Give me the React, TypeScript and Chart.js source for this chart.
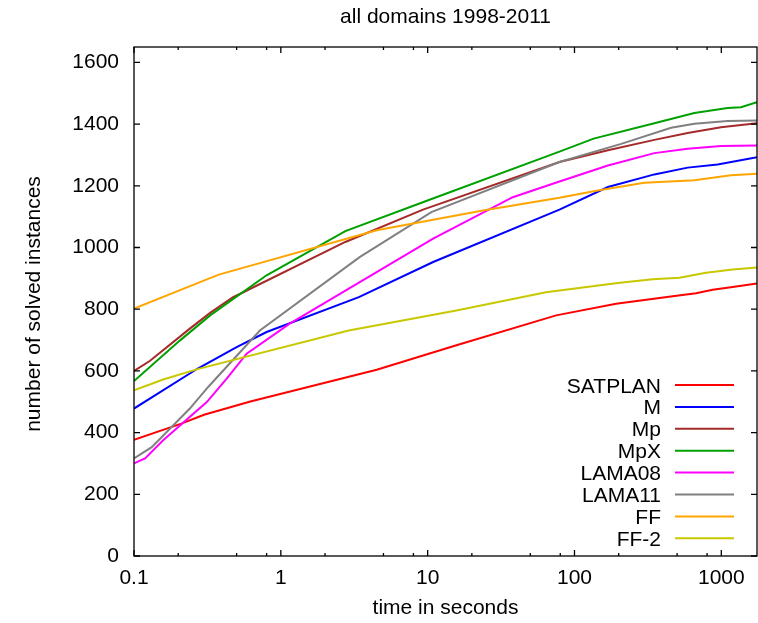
import { useEffect, useRef } from "react";
import { Chart, registerables } from "chart.js";

Chart.register(...registerables);

const FONT = '"Liberation Sans", Arial, Helvetica, sans-serif';

const chartTitle = "all domains 1998-2011";
const xAxisTitle = "time in seconds";
const yAxisTitle = "number of solved instances";

// Axis ticks
const xMajorTicks = [0.1, 1, 10, 100, 1000];
const xMinorTicks = [0.2, 0.5, 0.8, 2, 5, 8, 20, 50, 80, 200, 500, 800];
const yTicks = [0, 200, 400, 600, 800, 1000, 1200, 1400, 1600];
const xRange = [0.1, 1750];
const yRange = [0, 1650];

// Series: planner names and colours
const seriesNames = ["SATPLAN", "M", "Mp", "MpX", "LAMA08", "LAMA11", "FF", "FF-2"];
const seriesColors = ["#ff0000", "#0000ff", "#a52a2a", "#00a000", "#ff00ff", "#808080", "#ffa500", "#c8c800"];

// Solved instances over time (seconds) per planner
const satplanTime = [0.1, 0.21, 0.3, 0.62, 4.5, 15.7, 75, 192, 467, 673, 873, 1194, 1750];
const satplanSolved = [377, 429, 458, 501, 604, 683, 780, 818, 842, 852, 863, 872, 883];

const mTime = [0.1, 0.27, 0.5, 0.8, 3.4, 10.9, 79, 169, 350, 590, 944, 1750];
const mSolved = [478, 607, 677, 726, 839, 953, 1123, 1196, 1237, 1259, 1269, 1293];

const mpTime = [0.1, 0.128, 0.24, 0.33, 0.47, 2.75, 9.3, 79, 169, 350, 590, 995, 1750];
const mpSolved = [600, 632, 737, 788, 838, 1018, 1123, 1277, 1315, 1349, 1371, 1390, 1403];

const mpxTime = [0.1, 0.206, 0.33, 0.8, 2.75, 10.3, 79, 135, 350, 655, 1104, 1361, 1750];
const mpxSolved = [567, 699, 780, 910, 1053, 1155, 1311, 1353, 1403, 1436, 1452, 1455, 1471];

const lama08Time = [0.1, 0.119, 0.158, 0.313, 0.428, 0.585, 1.15, 10.9, 38, 79, 169, 350, 590, 995, 1750];
const lama08Solved = [300, 316, 375, 499, 575, 656, 753, 1029, 1163, 1214, 1266, 1306, 1320, 1329, 1331];

const lama11Time = [0.1, 0.132, 0.24, 0.32, 0.72, 3.44, 10.6, 79, 208, 455, 655, 1104, 1750];
const lama11Solved = [316, 353, 478, 548, 731, 969, 1115, 1277, 1336, 1388, 1401, 1410, 1412];

const ffTime = [0.1, 0.378, 4.5, 23.8, 79, 144, 299, 655, 1165, 1750];
const ffSolved = [802, 912, 1056, 1120, 1161, 1185, 1210, 1218, 1234, 1239];

const ff2Time = [0.1, 0.158, 0.267, 2.9, 15.7, 64, 197, 341, 518, 787, 1194, 1750];
const ff2Solved = [537, 572, 605, 731, 796, 855, 885, 897, 902, 918, 929, 935];

const seriesTimes = [satplanTime, mTime, mpTime, mpxTime, lama08Time, lama11Time, ffTime, ff2Time];
const seriesSolved = [satplanSolved, mSolved, mpSolved, mpxSolved, lama08Solved, lama11Solved, ffSolved, ff2Solved];

// Frame, inward tick marks, titles and the in-plot key, gnuplot style
const gnuplotDecor = {
  id: "gnuplotDecor",
  afterDraw(chart: any) {
    const { ctx, chartArea: a, scales } = chart;
    const xs = scales.x;
    const ys = scales.y;
    ctx.save();

    ctx.strokeStyle = "#000";
    ctx.lineWidth = 1.3;
    ctx.strokeRect(a.left, a.top, a.right - a.left, a.bottom - a.top);

    ctx.beginPath();
    for (const v of xMajorTicks) {
      const p = xs.getPixelForValue(v);
      ctx.moveTo(p, a.bottom);
      ctx.lineTo(p, a.bottom - 6);
      ctx.moveTo(p, a.top);
      ctx.lineTo(p, a.top + 6);
    }
    for (const v of xMinorTicks) {
      const p = xs.getPixelForValue(v);
      ctx.moveTo(p, a.bottom);
      ctx.lineTo(p, a.bottom - 3);
      ctx.moveTo(p, a.top);
      ctx.lineTo(p, a.top + 3);
    }
    for (const v of yTicks) {
      const p = ys.getPixelForValue(v);
      ctx.moveTo(a.left, p);
      ctx.lineTo(a.left + 6, p);
      ctx.moveTo(a.right, p);
      ctx.lineTo(a.right - 6, p);
    }
    ctx.stroke();

    ctx.fillStyle = "#000";
    ctx.font = `21px ${FONT}`;
    ctx.textBaseline = "alphabetic";
    ctx.textAlign = "center";
    const cx = (a.left + a.right) / 2;
    ctx.fillText(chartTitle, cx, 22.5);
    ctx.fillText(xAxisTitle, cx, 614);

    ctx.save();
    ctx.translate(40, 304);
    ctx.rotate(-Math.PI / 2);
    ctx.fillText(yAxisTitle, 0, 0);
    ctx.restore();

    // key
    const rowTop = 385;
    const rowStep = 21.9;
    chart.data.datasets.forEach((ds: any, i: number) => {
      const y = rowTop + i * rowStep;
      ctx.textAlign = "right";
      ctx.fillStyle = "#000";
      ctx.fillText(ds.label, 661, y + 7.5);
      ctx.strokeStyle = ds.borderColor;
      ctx.lineWidth = 2;
      ctx.beginPath();
      ctx.moveTo(675, y);
      ctx.lineTo(734, y);
      ctx.stroke();
    });

    ctx.restore();
  },
};

export default function App() {
  const canvasRef = useRef<HTMLCanvasElement | null>(null);

  useEffect(() => {
    const canvas = canvasRef.current;
    if (!canvas) return;

    const datasets = seriesNames.map((name, i) => ({
      label: name,
      data: seriesTimes[i].map((t, j) => ({ x: t, y: seriesSolved[i][j] })),
      borderColor: seriesColors[i],
      backgroundColor: seriesColors[i],
      borderWidth: 2,
      pointRadius: 0,
      tension: 0,
      fill: false,
      order: seriesNames.length - i,
    }));

    const chart = new Chart(canvas, {
      type: "line",
      data: { datasets },
      options: {
        animation: false,
        responsive: false,
        devicePixelRatio: 1,
        layout: { padding: { top: 47, right: 1, left: 0, bottom: 0 } },
        plugins: {
          legend: { display: false },
          title: { display: false },
          tooltip: { enabled: false },
        },
        scales: {
          x: {
            type: "logarithmic",
            min: xRange[0],
            max: xRange[1],
            grid: { display: false, drawTicks: false },
            border: { display: false },
            afterBuildTicks: (scale: any) => {
              scale.ticks = xMajorTicks.map((v) => ({ value: v }));
            },
            afterFit: (scale: any) => {
              scale.height = 67;
            },
            ticks: {
              autoSkip: false,
              maxRotation: 0,
              minRotation: 0,
              padding: 10,
              color: "#000",
              font: { family: FONT, size: 21 },
              callback: (value: any) => String(value),
            },
          },
          y: {
            type: "linear",
            min: yRange[0],
            max: yRange[1],
            grid: { display: false, drawTicks: false },
            border: { display: false },
            afterBuildTicks: (scale: any) => {
              scale.ticks = yTicks.map((v) => ({ value: v }));
            },
            afterFit: (scale: any) => {
              scale.width = 134;
            },
            ticks: {
              padding: 15,
              color: "#000",
              font: { family: FONT, size: 21 },
              callback: (value: any) => String(value),
            },
          },
        },
      },
      plugins: [gnuplotDecor],
    });

    return () => chart.destroy();
  }, []);

  return (
    <div style={{ position: "absolute", left: 0, top: 0, width: 758, height: 623, background: "#fff" }}>
      <canvas ref={canvasRef} width={758} height={623} style={{ display: "block" }} />
    </div>
  );
}
